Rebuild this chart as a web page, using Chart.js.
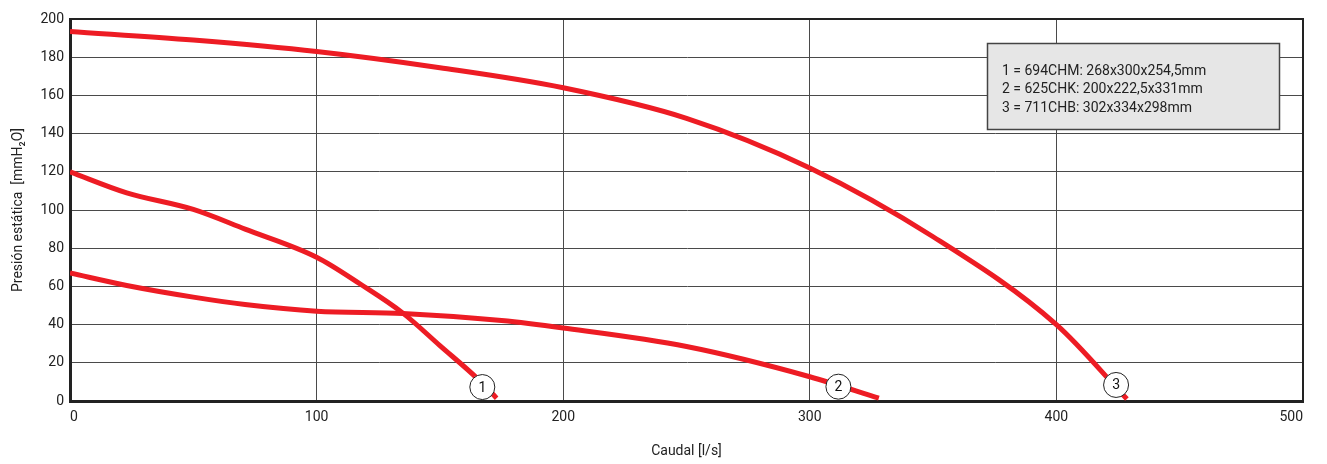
<!DOCTYPE html>
<html><head><meta charset="utf-8">
<script src="https://cdn.jsdelivr.net/npm/chart.js@4.4.0/dist/chart.umd.min.js"></script>
<style>html,body{margin:0;padding:0;background:#fff}#wrap{width:1327px;height:464px}</style>
</head><body><div id="wrap"><canvas id="c"></canvas></div>
<script>
// ---- data ----
const curve1X = [0, 23, 50, 71, 100, 118, 135, 150, 165, 173];
const curve1Y = [120, 109, 100.3, 90, 75.3, 61, 46, 29, 12, 1.5];
const curve2X = [0, 23, 50, 71, 100, 135, 175, 200, 250, 300, 328];
const curve2Y = [67, 60.5, 54.4, 50.5, 47, 45.8, 42.1, 38.2, 28.5, 12.7, 1.5];
const curve3X = [0, 50, 100, 150, 200, 250, 300, 350, 400, 428.6];
const curve3Y = [193.5, 189, 183, 174.5, 164, 148, 122, 86, 40, 1];
const markerX = [167.2, 311.6, 424.2];
const markerY = [7.3, 7.5, 8.4];
const markerLabels = ['1', '2', '3'];
const legendLines = [
  '1 = 694CHM: 268x300x254,5mm',
  '2 = 625CHK: 200x222,5x331mm',
  '3 = 711CHB: 302x334x298mm'
];
const xTitle = 'Caudal [l/s]';
const yTitle = 'Presión estática  [mmH\u2082O]';

const FONT = 'Roboto, "Liberation Sans", sans-serif';
const RED = '#ed1c24';
const pts = (xs, ys) => xs.map((x, i) => ({x, y: ys[i]}));

const lineDs = (xs, ys) => ({
  type: 'line', data: pts(xs, ys), borderColor: RED, borderWidth: 5,
  pointRadius: 0, cubicInterpolationMode: 'monotone', fill: false, order: 2,
  borderCapStyle: 'butt', borderJoinStyle: 'round'
});

const overlay = {
  id: 'overlay',
  afterDatasetsDraw(chart) {
    const ctx = chart.ctx, a = chart.chartArea;
    ctx.save();
    ctx.strokeStyle = '#222'; ctx.lineWidth = 2;
    ctx.beginPath();
    ctx.moveTo(a.left, a.top); ctx.lineTo(a.right, a.top); ctx.lineTo(a.right, a.bottom);
    ctx.stroke();
    const meta = chart.getDatasetMeta(0);
    ctx.fillStyle = '#111'; ctx.font = '14px ' + FONT;
    ctx.textAlign = 'center'; ctx.textBaseline = 'middle';
    meta.data.forEach((el, i) => ctx.fillText(markerLabels[i], el.x, el.y + 1));
    const bx = a.right - 316, by = a.top + 24, bw = 292, bh = 86;
    ctx.fillStyle = '#e6e6e6'; ctx.fillRect(bx, by, bw, bh);
    ctx.strokeStyle = '#444'; ctx.lineWidth = 1.5; ctx.strokeRect(bx + 0.5, by + 0.5, bw, bh);
    ctx.fillStyle = '#222'; ctx.textAlign = 'left';
    legendLines.forEach((t, i) => ctx.fillText(t, bx + 15, by + 28 + i * 18.5));
    ctx.restore();
  }
};

new Chart(document.getElementById('c'), {
  data: {
    datasets: [
      { type: 'scatter', data: pts(markerX, markerY), pointRadius: 12.5, pointHoverRadius: 12.5,
        pointBackgroundColor: '#fff', pointBorderColor: '#222', pointBorderWidth: 1, order: 0 },
      lineDs(curve1X, curve1Y),
      lineDs(curve2X, curve2Y),
      lineDs(curve3X, curve3Y)
    ]
  },
  options: {
    responsive: true, maintainAspectRatio: false, animation: false, devicePixelRatio: 1,
    layout: { padding: { top: 19, right: 24, left: 0, bottom: 0 } },
    plugins: { legend: { display: false }, tooltip: { enabled: false } },
    events: [],
    scales: {
      x: {
        type: 'linear', min: 0, max: 500,
        ticks: { stepSize: 100, align: 'inner', color: '#222', font: { family: FONT, size: 14 }, padding: 8 },
        grid: { color: '#4a4a4a', lineWidth: 1, drawTicks: false },
        border: { color: '#222', width: 3 },
        title: { display: true, text: xTitle, color: '#222', font: { family: FONT, size: 14 }, padding: { top: 0, bottom: 4 } },
        afterFit(s) { s.height = 63; }
      },
      y: {
        type: 'linear', min: 0, max: 200,
        ticks: { stepSize: 20, color: '#222', font: { family: FONT, size: 14 }, padding: 6 },
        grid: { color: '#4a4a4a', lineWidth: 1, drawTicks: false },
        border: { color: '#222', width: 3 },
        title: { display: true, text: yTitle, color: '#222', font: { family: FONT, size: 14 }, padding: { top: 10, bottom: 0 } },
        afterFit(s) { s.width = 70; }
      }
    }
  },
  plugins: [overlay]
});
</script></body></html>
